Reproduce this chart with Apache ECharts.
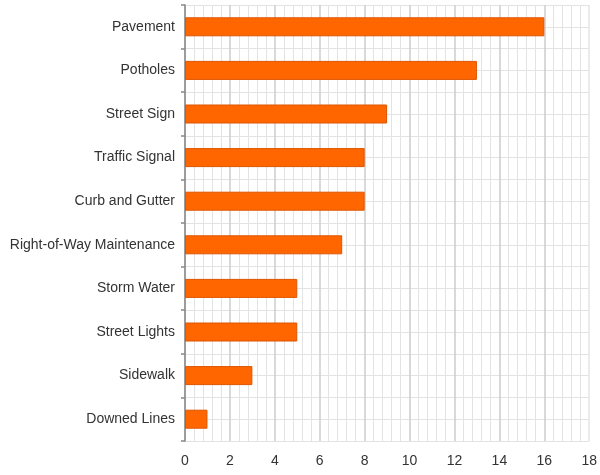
<!DOCTYPE html>
<html><head><meta charset="utf-8">
<script src="https://cdn.jsdelivr.net/npm/echarts@6/dist/echarts.min.js"></script>
<style>html,body{margin:0;padding:0;background:#fff}#c{width:600px;height:475px}</style>
</head><body><div id="c"></div>
<script>
const categories = ["Pavement","Potholes","Street Sign","Traffic Signal","Curb and Gutter","Right-of-Way Maintenance","Storm Water","Street Lights","Sidewalk","Downed Lines"];
const counts = [16,13,9,8,8,7,5,5,3,1];
const xTicks = [0,2,4,6,8,10,12,14,16,18];

const majorColors = xTicks.map((t, i) => i === xTicks.length - 1 ? '#e3e3e3' : '#cccccc');

const chart = echarts.init(document.getElementById('c'), null, {renderer:'canvas'});
chart.setOption({
  animation:false,
  grid:{left:185,right:8,top:5,bottom:34,containLabel:false},
  xAxis:{
    type:'value', min:xTicks[0], max:xTicks[xTicks.length-1], interval:2,
    axisLine:{show:false}, axisTick:{show:false},
    axisLabel:{color:'#333',fontSize:14,fontFamily:'Liberation Sans, Arial, sans-serif',margin:13},
    splitLine:{show:true,lineStyle:{color:majorColors,width:1.5}},
    minorTick:{show:false,splitNumber:5},
    minorSplitLine:{show:true,lineStyle:{color:'#e3e3e3',width:1}}
  },
  yAxis:[{
    type:'category', data:categories, inverse:true,
    axisLine:{show:true,lineStyle:{color:'#888',width:1.5}},
    axisTick:{show:true,length:4,lineStyle:{color:'#888',width:1.5}},
    axisLabel:{color:'#333',fontSize:14,fontFamily:'Liberation Sans, Arial, sans-serif',margin:10},
    splitLine:{show:false}
  },{
    type:'value', min:0, max:categories.length*2, interval:1, position:'right',
    axisLine:{show:false}, axisTick:{show:false}, axisLabel:{show:false},
    splitLine:{show:true,lineStyle:{color:'#e3e3e3',width:1}}
  }],
  series:[{
    type:'bar', data:counts, yAxisIndex:0, barWidth:19,
    itemStyle:{color:'#ff6600',borderColor:'#dd5500',borderWidth:1},
    z:3
  }]
});
</script></body></html>
